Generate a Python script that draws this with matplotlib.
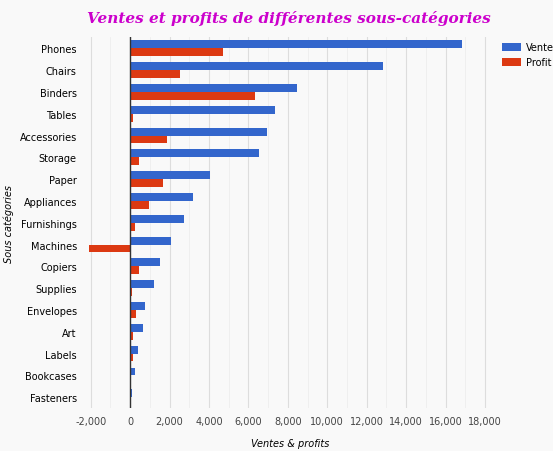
import numpy as np
import matplotlib.pyplot as plt

categories = ["Phones", "Chairs", "Binders", "Tables", "Accessories", "Storage", "Paper",
              "Appliances", "Furnishings", "Machines", "Copiers", "Supplies", "Envelopes",
              "Art", "Labels", "Bookcases", "Fasteners"]
ventes = [16840, 12830, 8470, 7350, 6950, 6540, 4060, 3200, 2740, 2080, 1520, 1220, 760, 660, 410, 250, 100]
profit = [4720, 2540, 6340, 150, 1880, 450, 1680, 960, 250, -2080, 450, 100, 300, 150, 150, 0, 0]

bg = "#f9f9f9"
fig = plt.figure(figsize=(5.53, 4.52), dpi=100, facecolor=bg)
ax = fig.add_axes([0.154, 0.095, 0.741, 0.82], facecolor=bg)

y = np.arange(len(categories))
h = 0.36
ax.barh(y - h / 2, ventes, height=h, color="#3366cc", label="Ventes", zorder=3)
ax.barh(y + h / 2, profit, height=h, color="#dc3912", label="Profit", zorder=3)

ax.set_yticks(y)
ax.set_yticklabels(categories, fontsize=7)
ax.set_ylim(len(categories) - 0.5, -0.5)
ax.set_xlim(-2280, 18500)
xt = np.arange(-2000, 18001, 2000)
ax.set_xticks(xt)
ax.set_xticklabels([f"{v:,}" for v in xt], fontsize=7, color="#444444")
ax.tick_params(length=0, pad=6)
ax.set_xticks(np.arange(-2000, 18001, 1000), minor=True)
ax.tick_params(which="minor", length=0)
ax.grid(axis="x", which="major", color="#dddddd", lw=0.8, zorder=0)
ax.grid(axis="x", which="minor", color="#eeeeee", lw=0.6, zorder=0)
ax.axvline(0, color="#333333", lw=1, zorder=4)
for s in ax.spines.values():
    s.set_visible(False)

ax.set_xlabel("Ventes & profits", fontsize=7, style="italic", labelpad=8)
ax.set_ylabel("Sous catégories", fontsize=7, style="italic")
fig.text(0.158, 0.96, "Ventes et profits de différentes sous-catégories", fontsize=11,
         color="#cc00cc", style="italic", weight="bold", family="DejaVu Serif", va="center")
ax.legend(loc="upper left", bbox_to_anchor=(0.995, 1.01), frameon=False, fontsize=7,
          handlelength=2.0, handleheight=0.9, handletextpad=0.5)

fig.savefig("out.png", dpi=100, facecolor=bg)
